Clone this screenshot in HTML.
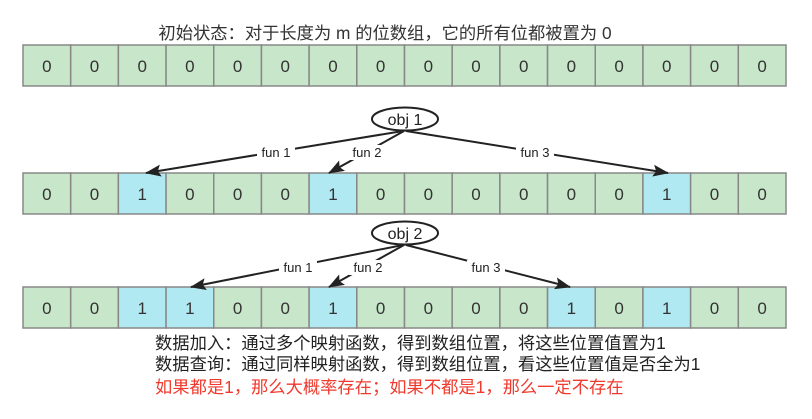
<!DOCTYPE html>
<html><head><meta charset="utf-8"><style>
html,body{margin:0;padding:0;background:#fff;}
svg{display:block;}
.c{font-family:"Liberation Sans","Noto Sans CJK SC",sans-serif;}
.g{fill:#c8e6c9;stroke:#888;stroke-width:1.5}
.b{fill:#b1e9f2;stroke:#888;stroke-width:1.5}
</style></head><body>
<svg width="812" height="419" viewBox="0 0 812 419" xmlns="http://www.w3.org/2000/svg">
<defs>
<marker id="ah" markerWidth="16" markerHeight="12" refX="15" refY="6" orient="auto" markerUnits="userSpaceOnUse">
<path d="M0,0 L16,6 L0,12 L3,6 Z" fill="#222"/>
</marker>
<g id="cg"><rect class="g" x="0" y="0" width="47.69" height="41"/><text x="23.85" y="27">0</text></g>
<g id="cb"><rect class="b" x="0" y="0" width="47.69" height="41"/><text x="23.85" y="27">1</text></g>
</defs>
<g class="c" font-size="17" fill="#333" text-anchor="middle">
<g transform="translate(0,45)">
<use href="#cg" x="23"/><use href="#cg" x="70.69"/><use href="#cg" x="118.38"/><use href="#cg" x="166.06"/><use href="#cg" x="213.75"/><use href="#cg" x="261.44"/><use href="#cg" x="309.13"/><use href="#cg" x="356.81"/><use href="#cg" x="404.5"/><use href="#cg" x="452.19"/><use href="#cg" x="499.88"/><use href="#cg" x="547.56"/><use href="#cg" x="595.25"/><use href="#cg" x="642.94"/><use href="#cg" x="690.63"/><use href="#cg" x="738.31"/>
</g>
<g transform="translate(0,173)">
<use href="#cg" x="23"/><use href="#cg" x="70.69"/><use href="#cb" x="118.38"/><use href="#cg" x="166.06"/><use href="#cg" x="213.75"/><use href="#cg" x="261.44"/><use href="#cb" x="309.13"/><use href="#cg" x="356.81"/><use href="#cg" x="404.5"/><use href="#cg" x="452.19"/><use href="#cg" x="499.88"/><use href="#cg" x="547.56"/><use href="#cg" x="595.25"/><use href="#cb" x="642.94"/><use href="#cg" x="690.63"/><use href="#cg" x="738.31"/>
</g>
<g transform="translate(0,287)">
<use href="#cg" x="23"/><use href="#cg" x="70.69"/><use href="#cb" x="118.38"/><use href="#cb" x="166.06"/><use href="#cg" x="213.75"/><use href="#cg" x="261.44"/><use href="#cb" x="309.13"/><use href="#cg" x="356.81"/><use href="#cg" x="404.5"/><use href="#cg" x="452.19"/><use href="#cg" x="499.88"/><use href="#cb" x="547.56"/><use href="#cg" x="595.25"/><use href="#cb" x="642.94"/><use href="#cg" x="690.63"/><use href="#cg" x="738.31"/>
</g>
</g>
<text class="c" x="385" y="39" font-size="17.3" fill="#333" text-anchor="middle">初始状态：对于长度为 m 的位数组，它的所有位都被置为 0</text>

<g stroke="#222" stroke-width="2" fill="none">
<line x1="403" y1="131" x2="146" y2="173" marker-end="url(#ah)"/>
<line x1="404" y1="131" x2="329" y2="173" marker-end="url(#ah)"/>
<line x1="406" y1="131" x2="668" y2="173" marker-end="url(#ah)"/>
<line x1="403" y1="245" x2="191" y2="287" marker-end="url(#ah)"/>
<line x1="404" y1="245" x2="329" y2="287" marker-end="url(#ah)"/>
<line x1="406" y1="245" x2="570" y2="287" marker-end="url(#ah)"/>
</g>
<ellipse cx="405" cy="119" rx="33" ry="11.5" fill="#fff" stroke="#222" stroke-width="2"/>
<ellipse cx="405" cy="233" rx="33" ry="11.5" fill="#fff" stroke="#222" stroke-width="2"/>
<g class="c" font-size="16" fill="#222" text-anchor="middle">
<text x="405" y="125">obj 1</text>
<text x="405" y="239">obj 2</text>
</g>
<g class="c" font-size="13" fill="#222" text-anchor="middle">
<rect x="257" y="145" width="38" height="15" fill="#fff"/><text x="276" y="157">fun 1</text>
<rect x="348" y="145" width="38" height="15" fill="#fff"/><text x="367" y="157">fun 2</text>
<rect x="516" y="145" width="38" height="15" fill="#fff"/><text x="535" y="157">fun 3</text>
<rect x="279" y="260" width="38" height="15" fill="#fff"/><text x="298" y="272">fun 1</text>
<rect x="349" y="260" width="38" height="15" fill="#fff"/><text x="368" y="272">fun 2</text>
<rect x="467" y="260" width="38" height="15" fill="#fff"/><text x="486" y="272">fun 3</text>
</g>
<g class="c" font-size="17.3" fill="#222">
<text x="155" y="349">数据加入：通过多个映射函数，得到数组位置，将这些位置值置为1</text>
<text x="155" y="370">数据查询：通过同样映射函数，得到数组位置，看这些位置值是否全为1</text>
<text x="155" y="393" fill="#f03a2e">如果都是1，那么大概率存在；如果不都是1，那么一定不存在</text>
</g>
</svg>
</body></html>
